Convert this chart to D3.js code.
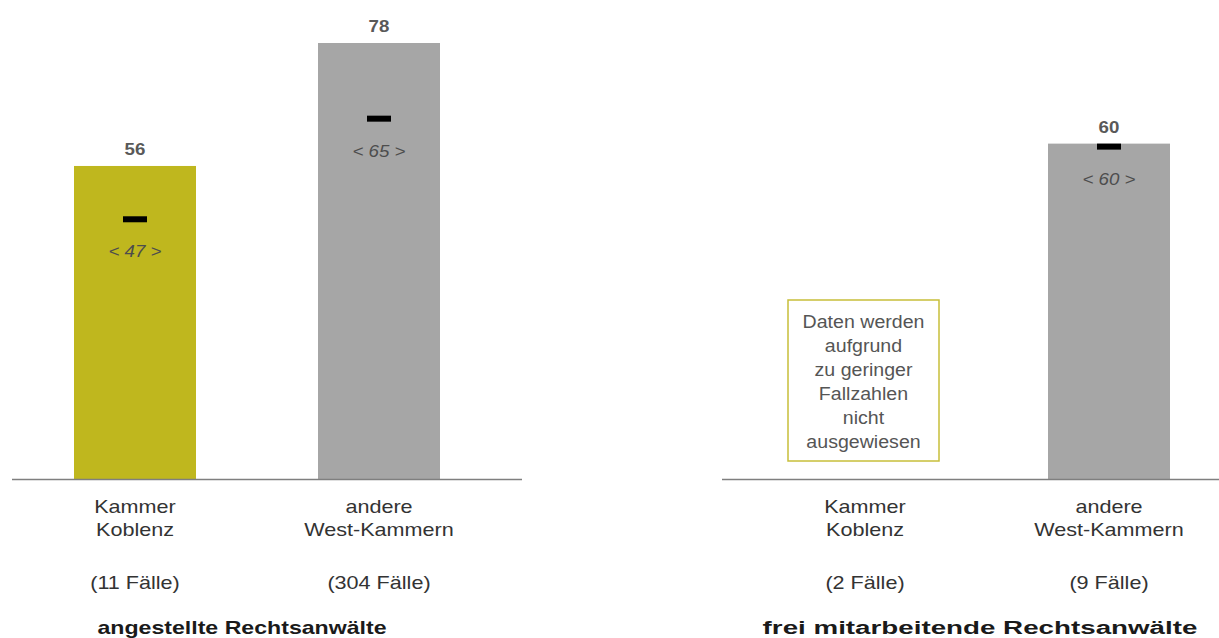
<!DOCTYPE html>
<html>
<head>
<meta charset="utf-8">
<script src="https://cdn.jsdelivr.net/npm/d3@7"></script>
<style>
  html, body { margin: 0; padding: 0; background: #fff; }
  svg { display: block; font-family: "Liberation Sans", Arial, sans-serif; }
</style>
</head>
<body>
<svg id="chart" width="1219" height="638"></svg>
<script>
// ---- data ----
const panelTitles = ["angestellte Rechtsanwälte", "frei mitarbeitende Rechtsanwälte"];
const categoryLines = [["Kammer", "Koblenz"], ["andere", "West-Kammern"]];
const caseCounts = [["11", "304"], ["2", "9"]];
const barValues = [[56, 78], [null, 60]];
const meanValues = [[47, 65], [null, 60]];
const noteLines = ["Daten werden", "aufgrund", "zu geringer", "Fallzahlen", "nicht", "ausgewiesen"];
const barColors = ["#bfb71e", "#a6a6a6"];

// ---- layout ----
const svg = d3.select("#chart");
const baseY = 479;
const y = d3.scaleLinear().domain([0, 78]).range([baseY, 43]);
const panelOffsets = [0, 730];
const axisExtents = [[12, 522], [722, 1219]];
const titleCenters = [242, 980];
const titleStretch = [1.25, 1.5];

function addText(g, x, yy, str, o) {
  const t = g.append("text")
    .attr("transform", `translate(${x},${yy}) scale(${o.sx || 1},1)`)
    .attr("text-anchor", "middle")
    .attr("font-size", o.size)
    .attr("fill", o.fill)
    .text(str);
  if (o.weight) t.attr("font-weight", o.weight);
  if (o.italic) t.attr("font-style", "italic");
  return t;
}

panelTitles.forEach((title, p) => {
  const off = panelOffsets[p];
  const x = d3.scaleBand().domain([0, 1]).range([13 + off, 501 + off])
    .paddingInner(0.5).paddingOuter(0.25);
  const g = svg.append("g");

  [0, 1].forEach(i => {
    const v = barValues[p][i];
    const cx = x(i) + x.bandwidth() / 2;
    if (v != null) {
      g.append("rect")
        .attr("x", x(i)).attr("width", x.bandwidth())
        .attr("y", y(v)).attr("height", baseY - y(v))
        .attr("fill", barColors[i]);
      addText(g, cx, y(v) - 11, v, {size: 17, weight: "bold", fill: "#595959", sx: 1.1});
    }
    const m = meanValues[p][i];
    if (m != null) {
      g.append("rect")
        .attr("x", cx - 12).attr("width", 24)
        .attr("y", y(m)).attr("height", 6)
        .attr("fill", "#000");
      addText(g, cx, y(m) + 41, "< " + m + " >", {size: 17, italic: true, fill: "#4d4d4d", sx: 1.1});
    }
    categoryLines[i].forEach((line, k) => {
      addText(g, cx, 513 + k * 23, line, {size: 18, fill: "#333", sx: 1.2});
    });
    addText(g, cx, 589, "(" + caseCounts[p][i] + " Fälle)", {size: 18, fill: "#333", sx: 1.2});

    if (v == null) {
      g.append("rect")
        .attr("x", 788).attr("y", 300)
        .attr("width", 151).attr("height", 161)
        .attr("fill", "#fff").attr("stroke", "#c7bf3a").attr("stroke-width", 1.5);
      noteLines.forEach((line, k) => {
        addText(g, 863.5, 328 + k * 24, line, {size: 17.5, fill: "#555", sx: 1.12});
      });
    }
  });

  g.append("line")
    .attr("x1", axisExtents[p][0]).attr("x2", axisExtents[p][1])
    .attr("y1", baseY + 0.5).attr("y2", baseY + 0.5)
    .attr("stroke", "#7f7f7f").attr("stroke-width", 1.5);

  addText(g, titleCenters[p], 634, title, {size: 18.5, weight: "bold", fill: "#1a1a1a", sx: titleStretch[p]});
});
</script>
</body>
</html>
